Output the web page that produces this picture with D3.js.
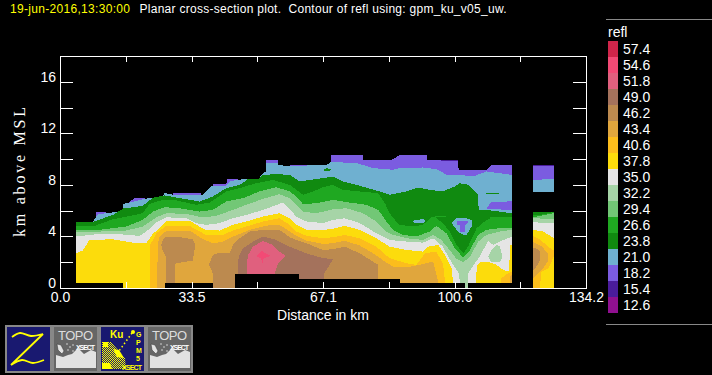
<!DOCTYPE html>
<html>
<head>
<meta charset="utf-8">
<script src="https://cdn.jsdelivr.net/npm/d3@7"></script>
<style>
  html, body { margin: 0; padding: 0; background: #000; }
  svg { display: block; }
  text { font-family: "Liberation Sans", sans-serif; }
</style>
</head>
<body>
<div id="chart"></div>
<script>
// legend levels, top to bottom
const reflLevels = [57.4, 54.6, 51.8, 49.0, 46.2, 43.4, 40.6, 37.8, 35.0, 32.2, 29.4, 26.6, 23.8, 21.0, 18.2, 15.4, 12.6]
const reflColors = ["#d0254a", "#f24a75", "#e0607e", "#a4725c", "#bc8a4f", "#e0a63d", "#fcbd1c", "#fcdc0c", "#e5e5e5", "#a6d4a7", "#72c776", "#1fa821", "#108a10", "#6fb0d0", "#7b5ce0", "#4a1c9c", "#901090"]

const xTickValues = [0, 16.775, 33.55, 50.325, 67.1, 83.875, 100.65, 117.425, 134.2]
const xTickLabels = ["0.0", "", "33.5", "", "67.1", "", "100.6", "", "134.2"]
const yTickValues = [0, 2, 4, 6, 8, 10, 12, 14, 16]
const yTickLabels = ["0", "", "4", "", "8", "", "12", "", "16"]

// contour edges: [distance km, top km, base km (0 if left out)]
const purpleTop = [[9.3,5.91],[11.8,5.91]]
const purpleTop2 = [[17.7,6.65],[18.9,6.97],[21.6,6.97],[22.2,6.8]]
const purpleTop3 = [[28.8,7.36],[36.1,7.36]]
const purpleTop4 = [[39,8.08],[42.4,8.08],[42.7,8.45],[45.4,8.45]]
const purpleTop5 = [[52.6,9.95],[55.5,9.95]]
const purpleTop6 = [[58.6,9.56],[63.2,9.56]]
const purpleTop7 = [[69.1,10.34],[77.3,10.34],[77.31,9.95],[84.5,9.95],[85.8,10.15],[86.7,10.34],[93.5,10.34],[93.6,9.95],[101.6,9.82],[101.7,9.17],[108.8,9.17],[110.1,9.56],[115.3,9.56]]
const darkPurple1 = [[86.7,10.34,10.17],[91.4,10.34,10.2]]
const darkPurple2 = [[95.6,9.95,9.82],[101.6,9.95,9.82]]

const blueTop = [[8.4,5.13],[9.7,5.73],[11.8,5.8],[14.5,5.9],[14.6,5.5],[16.1,6],[16.2,6.53],[17.7,6.63],[21.6,6.92],[23.7,7],[26,7],[26.7,7.38],[28.8,7.23],[36.5,7.23],[38.6,7.9],[42.4,7.93],[43.3,8.26],[45.4,8.4],[48,8.45],[50.5,8.4],[51.4,8.78],[52.5,9.04],[52.6,9.69],[55.5,9.69],[55.6,9.56],[58.6,9.43],[62.9,9.48],[63.7,9.56],[68,9.56],[69.2,9.77],[75.6,9.7],[80,9.3],[85,9.17],[86.7,9.3],[92.6,9.35],[96,9.22],[98.6,8.8],[101.2,8.8],[105.4,8.65],[108.8,9.04],[115.3,8.78]]
const darkGreenTop = [[4,5.13],[8.4,5.13],[13.5,5.67],[16.2,6.17],[21.1,6.37],[23.7,7],[26.7,7.18],[29.7,7.02],[35.6,6.71],[39,7.1],[42.4,7.75],[45.8,8],[48,8.45],[50.5,8.45],[51.8,8.78],[55.2,8.83],[58.6,8.78],[61.2,8.26],[63.7,8.39],[67.1,8.52],[69.7,8.65],[72.2,8.26],[76.5,7.93],[81.6,7.49],[84.1,7.23],[88.4,7.49],[91.4,7.8],[94.3,7.62],[97.7,7.49],[100.7,7.88],[102,8.13],[104.1,8.01],[106.7,7.23],[106.8,6.06],[108.8,6.06],[115.3,5.8]]
const greenTop = [[4,4.82],[8.4,4.77],[13.5,5.34],[16.2,5.49],[21.1,5.8],[22.9,6.53],[26.3,6.84],[29.7,6.79],[34.8,6.45],[38.2,6.63],[42.4,7.49],[45.8,7.75],[50.1,8.13],[54.3,8.39],[58.6,8],[60.3,7.62],[62,7.23],[64.6,7.49],[67.1,7.82],[69.7,8],[72.2,7.62],[76.5,7.49],[81.2,7.36],[82.9,6.58],[84.1,5.8],[85.8,5.16],[86.7,4.9],[90.1,4.77],[92.6,4.9],[94.8,5.49],[96.9,5.62],[98.6,5.54],[105.8,5.41],[109.7,5.49],[115.3,5.54]]
const lightGreenTop = [[4,4.51],[10.1,4.51],[16.9,4.77],[21.1,5.28],[23.7,5.93],[26.7,6.27],[30.5,6.19],[35.6,5.93],[39,6.06],[42.4,6.71],[46.7,6.97],[50.9,7.49],[55.2,7.82],[58.6,7.49],[60.3,7.1],[62,6.5],[65.4,6.58],[69.7,6.84],[73.9,6.63],[78.2,6.45],[81.2,6.06],[83.3,5.16],[85,4.51],[87.5,4.12],[90.9,3.99],[94.3,4.38],[96,4.82],[98.6,4.25],[100.7,3.08],[102.9,2.36],[104.6,2.95],[106.7,4.12],[108.8,4.51],[112.2,4.64],[115.3,4.69]]
const paleTop = [[4,4.38],[10.1,4.38],[16.9,4.46],[21.1,4.77],[24.6,5.49],[27.1,5.8],[32.2,5.75],[36.5,5.47],[39.9,5.6],[44.1,6.06],[47.5,6.45],[51.8,6.92],[56,7.28],[58.6,6.97],[60.3,6.45],[62,5.93],[65.4,5.8],[69.7,6.11],[73.1,6.19],[77.3,5.8],[80.7,5.16],[83.3,4.38],[85,4.12],[88.4,3.86],[92.6,3.73],[95.2,4.12],[97.3,3.73],[99.4,2.95],[101.2,2.25],[102.9,1.99],[104.6,2.44],[106.7,3.6],[108.8,4.12],[112.2,4.38],[115.3,4.51]]
const whiteTop = [[4,3.99],[10.1,4.2],[15.2,4.17],[20.3,4.04],[22,4.38],[24.6,5.08],[27.1,5.49],[32.2,5.41],[34.8,5.03],[37.3,4.9],[40.7,5.03],[44.1,5.41],[47.5,5.67],[51.8,6.06],[56.9,6.63],[58.6,6.11],[60.3,5.54],[62.9,5.16],[67.1,5.03],[69.7,5.28],[72.6,5.41],[76.5,5.03],[80.7,4.25],[84.1,3.73],[88.4,3.6],[92.6,3.52],[95.2,3.86],[97.7,3.21],[98.6,2.69],[100.3,1.79],[101.8,1.14],[102,0.39],[102.1,0],[104,0],[104.1,1.14],[105.8,1.92],[107.1,2.44],[109.2,3.65],[110.5,3.34],[112.2,3.6],[115.3,3.99]]
const yellowTop = [[4,2.69],[5.8,2.9],[7.5,3.73],[13.5,3.78],[18.6,3.52],[22,3.47],[23.7,4.2],[26.3,4.9],[27.1,5.16],[33.1,5.21],[35.6,4.77],[37.3,4.51],[40.7,4.46],[44.1,4.9],[47.5,5.16],[51.8,5.54],[56,5.8],[58.6,5.41],[60.3,4.9],[62.9,4.51],[67.1,4.51],[69.7,4.59],[72.6,4.82],[76.5,4.51],[80.7,3.86],[84.1,3.21],[88.4,2.95],[92.6,2.82],[93.9,3.21],[96.5,3.34],[98.2,2.56],[99.9,1.53],[100.3,0.39],[100.4,0]]
const yellowTop2 = [[106.1,0],[106.2,0.39],[106.3,1.66],[107.1,1.99],[109.7,1.99],[111.4,1.79],[113.1,1.4],[114.6,1.27],[114.8,3.34],[115.3,3.34]]
const orangeTop = [[23,0],[23.01,3.34],[24.6,4.25],[27.1,4.82],[33.1,4.82],[34.8,4.51],[37.3,4.12],[41.6,4.12],[44.1,4.46],[47.5,4.77],[51.8,5.16],[56,5.41],[58.6,4.9],[60.3,4.38],[62.9,4.04],[67.1,3.86],[69.7,3.94],[72.6,4.12],[76.5,3.86],[80.7,3.21],[84.1,2.31],[88.4,1.92],[90.9,1.79],[93.1,2.69],[96,2.82],[97.7,1.92],[98.3,0.39],[98.31,0]]
const orangeTop2 = [[112.6,0],[112.61,0.75],[113.9,1.06],[114.8,1.22],[115.3,1.22]]
const tanTop = [[24.7,0],[25,3.47],[25.4,3.99],[27.1,4.43],[33.1,4.46],[34.8,4.12],[36.5,3.78],[39,3.47],[41.6,3.6],[44.1,3.99],[48.4,4.51],[52.6,4.84],[56,4.9],[58.6,4.38],[60.3,4.04],[62.9,3.68],[67.1,3.42],[69.7,3.47],[72.6,3.68],[76.5,3.29],[79.9,2.69],[82.9,2.05],[85,1.66],[88.4,1.61],[91.8,1.79],[95.2,2.05],[96.3,0.75],[96.6,0.39],[96.61,0]]
const tanTop2 = [[114.6,0],[114.8,0.88],[115.3,1]]
const brownBlob = [[25.8,3.34,3.34],[26.3,3.73,2.82],[27,3.95,2.4],[27.01,3.95,0],[29.2,3.99,0],[29.3,3.99,1.79],[29.7,3.99,1.92],[33.9,3.78,2.13],[34.5,3.34,3.34]]
const brownTop = [[38,1.79,1.79],[39,2.56,1.14],[39.01,2.56,0],[40.7,2.75,0],[43.3,2.69,0],[44.1,3.34,0],[45.8,3.86,0],[48.4,4.38,0],[51.8,4.51,0],[56,4.51,0],[58.6,3.94,0],[60.3,3.73,0],[62.9,3.47,0],[67.1,2.95,0],[69.7,3.01,0],[72.6,3.21,0],[76.5,2.69,0],[81.2,1.79,0],[81.3,0,0]]
const darkBrownTop = [[45.4,2.05,0],[45.8,2.56,0],[46.7,3.08,0],[49.2,3.6,0],[51.8,3.99,0],[55.2,3.73,0],[58.6,3.21,0],[62.9,2.69,0],[67.1,2.31,0],[67.3,2.31,0],[67.4,2.31,1.14],[69.7,2.23,2.23]]
const darkBrownTick = [[74.4,1.45,1.09],[74.6,1.45,1.09]]
const roseTop = [[47.7,1.92,0],[48,2.56,0],[49.2,3.21,0],[51.8,3.65,0],[54.3,3.34,0],[54.8,3.2,1.09],[55.6,2.88,1.92],[57.7,2.49,2.49]]
const pinkTop = [[50.1,2.49,2.49],[51.2,2.82,2.3],[51.4,2.9,2.25],[51.5,2.9,1.79],[52,2.75,2.3],[53.7,2.49,2.49]]

// pockets inside the layers near the dip at 100 km
const blueSpot = [[89.7,5.2,5.2],[90.6,5.25,5.05],[92.2,5.34,5.05],[92.8,5.34,5.05],[93.1,5.2,5.1]]
const darkGreenBlot = [[67.1,9.17,9.17],[68,9.3,9.04],[69.5,9.17,9.17]]
const darkGreenLine = [[108.8,7.38,7.33],[112,7.38,7.33]]
const purplePatch = [[108.7,6.1,6.1],[109.9,6.65,6.1],[115.3,6.73,6.08]]
const darkGreenDip = [[96,5.49,5.41],[97.7,5.49,5.03],[99.4,5.49,4.38],[101.2,5.49,3.34],[102.9,5.49,2.69],[104.1,5.49,3.21],[106.3,5.49,4.64],[108,5.49,5.1],[109.7,5.49,5.41]]
const blueHole = [[99.9,5.03,5.03],[101.2,5.41,4.51],[102.4,5.41,4.17],[103.7,5.41,4.12],[105,5.28,4.77],[105.2,4.95,4.95]]
const purpleHole = [[101.4,5.23,4.9],[102,5.23,4.9],[102.1,5.23,4.38],[103.3,5.23,4.38],[103.4,5.23,4.9],[104.1,5.23,5.03]]
const paleBlob = [[109.2,2.44,2.44],[110.1,2.95,1.99],[111.4,3.34,1.99],[112.2,3.21,1.99],[112.9,2.44,2.44]]

// the narrow strip beyond the gap
const stripDarkPurple = [[120.6,9.56,7.41],[126,9.56,7.41]]
const stripPurple = [[120.6,9.43,7.41],[126,9.43,7.41]]
const stripBlue = [[120.6,8.39,7.41],[126,8.45,7.41]]
const stripDarkGreen = [[120.6,5.9],[126,5.9]]
const stripGreen = [[120.6,5.7],[123,5.7],[126,5.9]]
const stripLightGreen = [[120.6,5.49],[126,5.8]]
const stripPale = [[120.6,5.41],[126,5.36]]
const stripWhite = [[120.6,5.1],[126,5.03]]
const stripYellow = [[120.6,4.51],[123.3,4.38],[126,3.86]]
const stripOrange = [[120.6,4.06,0],[122.5,3.75,0],[122.7,3.7,1.22],[124.6,3.2,1.53],[126,2.9,2.44]]
const stripTan = [[120.6,3.6,0.75],[123,3.21,1.4],[124.4,2.69,2.05],[124.6,2.4,2.4]]
const stripBrown = [[120.6,3.13,1.27],[121.5,3.05,1.66],[122.3,2.95,2],[122.5,2.6,2.6]]

// no-data floor under the echo, as steps
const floorEdge = [[4,0.39],[16.2,0],[26.9,0.39],[39,0],[44.6,1.09],[60.9,0.7],[86.7,0.39],[103.3,0],[104.1,0.39],[115.3,0.39]]

// paint order, lowest level first
const layers = [
  [15.4, darkPurple1], [15.4, darkPurple2], [15.4, stripDarkPurple],
  [18.2, purpleTop], [18.2, purpleTop2], [18.2, purpleTop3], [18.2, purpleTop4],
  [18.2, purpleTop5], [18.2, purpleTop6], [18.2, purpleTop7], [18.2, stripPurple],
  [21.0, blueTop], [21.0, stripBlue],
  [23.8, darkGreenTop], [23.8, stripDarkGreen], [23.8, darkGreenBlot], [23.8, darkGreenLine],
  [26.6, greenTop], [26.6, stripGreen],
  [18.2, purplePatch],
  [29.4, lightGreenTop], [29.4, stripLightGreen],
  [32.2, paleTop], [32.2, stripPale],
  [35.0, whiteTop], [35.0, stripWhite],
  [32.2, paleBlob],
  [37.8, yellowTop], [37.8, yellowTop2], [37.8, stripYellow],
  [40.6, orangeTop], [40.6, orangeTop2], [40.6, stripOrange],
  [43.4, tanTop], [43.4, tanTop2], [43.4, stripTan],
  [46.2, brownBlob], [46.2, brownTop], [46.2, stripBrown],
  [49.0, darkBrownTop], [49.0, darkBrownTick],
  [51.8, roseTop], [54.6, pinkTop],
  [23.8, darkGreenDip], [21.0, blueSpot], [21.0, blueHole], [18.2, purpleHole]
]

const width = 712
const height = 375

const svg = d3.select("#chart")
  .append("svg")
  .attr("width", width)
  .attr("height", height)
  .style("background", "#000")

const x = d3.scaleLinear().domain([0, 134.2]).range([60, 586])
const y = d3.scaleLinear().domain([0, 18]).range([288, 56])
const color = d3.scaleOrdinal().domain(reflLevels).range(reflColors)

// Contour bands
const area = d3.area()
  .x(d => x(d[0]))
  .y0(d => y(d[2] || 0))
  .y1(d => y(d[1]))

const plot = svg.append("g").attr("shape-rendering", "crispEdges")

plot.selectAll("path.band")
  .data(layers)
  .join("path")
  .attr("class", "band")
  .attr("fill", d => color(d[0]))
  .attr("d", d => area(d[1]))

// Black out the floor
const floorArea = d3.area()
  .curve(d3.curveStepAfter)
  .x(d => x(d[0]))
  .y0(y(0))
  .y1(d => y(d[1]))

plot.append("path")
  .attr("fill", "#000")
  .attr("d", floorArea(floorEdge))

// Axes
function styleAxis(g) {
  g.selectAll("path, line").attr("stroke", "#fff").attr("shape-rendering", "crispEdges")
  g.selectAll("text")
    .attr("fill", "#fff")
    .attr("font-family", "Liberation Sans")
    .attr("font-size", 14)
}

svg.append("g")
  .attr("transform", `translate(0,${y(0)})`)
  .call(d3.axisBottom(x).tickValues(xTickValues).tickSizeOuter(0).tickSizeInner(-6).tickPadding(4)
    .tickFormat((d, i) => xTickLabels[i]))
  .call(styleAxis)

svg.append("g")
  .attr("transform", `translate(0,${y(18)})`)
  .call(d3.axisTop(x).tickValues(xTickValues).tickSizeOuter(0).tickSizeInner(-6).tickFormat(""))
  .call(styleAxis)

svg.append("g")
  .attr("transform", `translate(${x(0)},0)`)
  .call(d3.axisLeft(y).tickValues(yTickValues).tickSizeOuter(0).tickSizeInner(-13).tickPadding(4)
    .tickFormat((d, i) => yTickLabels[i]))
  .call(styleAxis)
  .call(g => g.selectAll("text").attr("dy", "-0.04em"))

svg.append("g")
  .attr("transform", `translate(${x(134.2)},0)`)
  .call(d3.axisRight(y).tickValues(yTickValues).tickSizeOuter(0).tickSizeInner(-13).tickFormat(""))
  .call(styleAxis)

// Titles
svg.append("text")
  .attr("x", 10).attr("y", 13)
  .attr("font-size", 12).attr("fill", "#ff0")
  .attr("textLength", 120)
  .text("19-jun-2016,13:30:00")

svg.append("text")
  .attr("x", 139.5).attr("y", 13)
  .attr("font-size", 12).attr("fill", "#fff")
  .attr("textLength", 367)
  .attr("xml:space", "preserve")
  .style("white-space", "pre")
  .text("Planar cross-section plot.  Contour of refl using: gpm_ku_v05_uw.")

svg.append("text")
  .attr("x", 323).attr("y", 320)
  .attr("text-anchor", "middle")
  .attr("font-size", 14).attr("fill", "#fff")
  .text("Distance in km")

svg.append("text")
  .attr("transform", "translate(25,172) rotate(-90)")
  .attr("text-anchor", "middle")
  .attr("font-size", 16).attr("fill", "#fff")
  .attr("textLength", 130)
  .style("font-family", "Liberation Serif")
  .text("km above MSL")

// Legend
const legend = svg.append("g")
const legendY = d3.scaleBand().domain(reflLevels).range([41, 313])

legend.selectAll("line")
  .data([19, 324])
  .join("line")
  .attr("x1", 606).attr("x2", width)
  .attr("y1", d => d + 0.5).attr("y2", d => d + 0.5)
  .attr("stroke", "#888")

legend.append("text")
  .attr("x", 608).attr("y", 37)
  .attr("font-size", 14).attr("fill", "#fff")
  .text("refl")

legend.selectAll("rect")
  .data(reflLevels)
  .join("rect")
  .attr("x", 608).attr("width", 10)
  .attr("y", d => legendY(d)).attr("height", legendY.bandwidth())
  .attr("fill", d => color(d))
  .attr("shape-rendering", "crispEdges")

legend.selectAll("text.level")
  .data(reflLevels)
  .join("text")
  .attr("class", "level")
  .attr("x", 623)
  .attr("y", d => legendY(d) + legendY.bandwidth() / 2)
  .attr("dy", "0.36em")
  .attr("font-size", 14).attr("fill", "#fff")
  .text(d => d.toFixed(1))

// Buttons at the bottom
const defs = svg.append("defs")
const pattern = defs.append("pattern")
  .attr("id", "dither")
  .attr("width", 2).attr("height", 2)
  .attr("patternUnits", "userSpaceOnUse")
pattern.append("rect").attr("width", 1).attr("height", 1).attr("fill", "#ff0")
pattern.append("rect").attr("x", 1).attr("y", 1).attr("width", 1).attr("height", 1).attr("fill", "#ff0")

function button(left, fill) {
  const g = svg.append("g").attr("transform", `translate(${left},325)`)
  g.append("rect")
    .attr("x", 1).attr("y", 1)
    .attr("width", 45).attr("height", 46)
    .attr("fill", fill).attr("stroke", "#888").attr("stroke-width", 2)
    .attr("shape-rendering", "crispEdges")
  return g
}

function topoButton(left) {
  const g = button(left, "#666")
  g.append("polygon")
    .attr("fill", "#e2e2e2")
    .attr("points", "4,43 4,30 11,32 16,30 20,29 26,23 32,29 39,25 44,27 44,43")
  g.append("text")
    .attr("x", 6).attr("y", 15)
    .attr("font-size", 13).attr("fill", "#ddd")
    .attr("textLength", 35)
    .text("TOPO")
  g.append("text")
    .attr("x", 24).attr("y", 25)
    .attr("font-size", 7).attr("font-weight", "bold").attr("fill", "#fff")
    .attr("textLength", 19)
    .text("XSECT")
  g.append("path")
    .attr("d", "M5,19 L9,20 L12,26 L10,29 L6,25 Z")
    .attr("fill", "#e2e2e2").attr("stroke", "#333").attr("stroke-width", 0.5)
  g.selectAll("circle")
    .data([[15, 19], [18, 22], [21, 20], [16, 25], [21, 26]])
    .join("circle")
    .attr("cx", d => d[0]).attr("cy", d => d[1]).attr("r", 0.8)
    .attr("fill", "#ddd")
}

const zLine = d3.line().curve(d3.curveCatmullRom)
const zButton = button(5, "#191970")
zButton.append("path")
  .attr("fill", "none").attr("stroke", "#ff0").attr("stroke-width", 1.8)
  .attr("d", zLine([[7,12], [15,8], [26,11], [38,9]]) + "L6,40" + zLine([[6,40], [17,35], [28,38], [39,35]]).replace("M", "L"))

topoButton(52)

const gpm = button(99, "#191970")
gpm.append("path")
  .attr("fill", "url(#dither)")
  .attr("d", "M3,17 L12,17 L18,24 L26,33 L27,44 L3,44 Z")
gpm.append("path")
  .attr("fill", "#ff0")
  .attr("d", "M3,38 L11,38 L13,44 L3,44 Z M4,17 L9,17 L9,22 L4,22 Z M14,24 L20,25 L25,33 L18,32 Z")
gpm.append("text")
  .attr("x", 11).attr("y", 13)
  .attr("font-size", 10).attr("font-weight", "bold").attr("fill", "#ff0")
  .text("Ku")
gpm.selectAll("text.side")
  .data([["G", 12], ["P", 20], ["M", 28], ["5", 36]])
  .join("text")
  .attr("class", "side")
  .attr("x", 37).attr("y", d => d[1])
  .attr("font-size", 7).attr("font-weight", "bold").attr("fill", "#ff0")
  .text(d => d[0])
gpm.append("text")
  .attr("x", 23).attr("y", 45)
  .attr("font-size", 7).attr("font-weight", "bold").attr("fill", "#ff0")
  .attr("textLength", 20)
  .text("XSECT")
gpm.append("path")
  .attr("d", "M33,8 L20,26")
  .attr("stroke", "#ff0").attr("stroke-width", 1.5).attr("stroke-dasharray", "1.5 2.5")
gpm.append("circle").attr("cx", 34).attr("cy", 7).attr("r", 2).attr("fill", "#ff0")

topoButton(146)
</script>
</body>
</html>
